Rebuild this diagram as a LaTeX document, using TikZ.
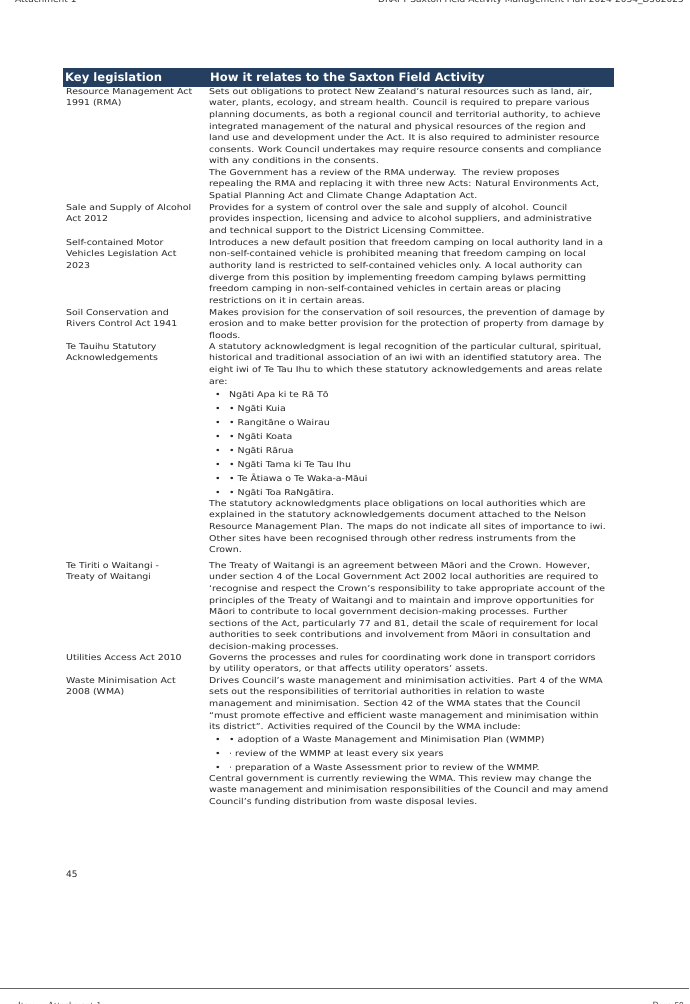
\documentclass[tikz,border=0pt]{standalone}
\usepackage{fontspec}
\setmainfont{DejaVu Sans}
\newfontfamily\widefont[FakeStretch=1.16]{DejaVu Sans}
\definecolor{hdr}{HTML}{243F60}
\tikzset{
  cell/.style={anchor=north west,inner sep=0pt,align=left,font=\widefont\fontsize{8.1}{11.55}\selectfont,text=black!85},
  hd/.style={anchor=west,inner sep=0pt,font=\fontsize{11.6}{12}\selectfont\bfseries,text=white},
  foot/.style={inner sep=0pt,font=\fontsize{9}{10}\selectfont,text=black!80}
}
\newcommand{\bl}[1]{\makebox[14pt][l]{\textbullet}#1}
\begin{document}
\begin{tikzpicture}[x=1pt,y=1pt]
\useasboundingbox (0,0) rectangle (689,-1004);
\fill[white] (0,0) rectangle (689,-1004);
% cropped running header
\node[foot,anchor=base west] (th1) at (15,-2) {Attachment 1};
\node[foot,anchor=base east] (th2) at (684,-2) {DRAFT Saxton Field Activity Management Plan 2024-2034\_D562025};
% header bar
\fill[hdr] (63,-68) rectangle (614,-87);
\node[hd] (h1) at (65,-78) {Key legislation};
\node[hd] (h2) at (210,-78) {How it relates to the Saxton Field Activity};
% rows
\node[cell] (a1) at (66,-88) {Resource Management Act\\1991 (RMA)};
\node[cell] (b1) at (209,-88) {Sets out obligations to protect New Zealand’s natural resources such as land, air,\\
water, plants, ecology, and stream health. Council is required to prepare various\\
planning documents, as both a regional council and territorial authority, to achieve\\
integrated management of the natural and physical resources of the region and\\
land use and development under the Act. It is also required to administer resource\\
consents. Work Council undertakes may require resource consents and compliance\\
with any conditions in the consents.\\
The Government has a review of the RMA underway.\ \ The review proposes\\
repealing the RMA and replacing it with three new Acts: Natural Environments Act,\\
Spatial Planning Act and Climate Change Adaptation Act.};
\node[cell] (a2) at (66,-204) {Sale and Supply of Alcohol\\Act 2012};
\node[cell] (b2) at (209,-204) {Provides for a system of control over the sale and supply of alcohol. Council\\
provides inspection, licensing and advice to alcohol suppliers, and administrative\\
and technical support to the District Licensing Committee.};
\node[cell] (a3) at (66,-239) {Self-contained Motor\\Vehicles Legislation Act\\2023};
\node[cell] (b3) at (209,-239) {Introduces a new default position that freedom camping on local authority land in a\\
non-self-contained vehicle is prohibited meaning that freedom camping on local\\
authority land is restricted to self-contained vehicles only. A local authority can\\
diverge from this position by implementing freedom camping bylaws permitting\\
freedom camping in non-self-contained vehicles in certain areas or placing\\
restrictions on it in certain areas.};
\node[cell] (a4) at (66,-309) {Soil Conservation and\\Rivers Control Act 1941};
\node[cell] (b4) at (209,-309) {Makes provision for the conservation of soil resources, the prevention of damage by\\
erosion and to make better provision for the protection of property from damage by\\
floods.};
\node[cell] (a5) at (66,-343) {Te Tauihu Statutory\\Acknowledgements};
\node[cell] (b5) at (209,-343) {A statutory acknowledgment is legal recognition of the particular cultural, spiritual,\\
historical and traditional association of an iwi with an identified statutory area. The\\
eight iwi of Te Tau Ihu to which these statutory acknowledgements and areas relate\\
are:};
\node[cell] (c5) at (215,-391) {\bl{Ngāti Apa ki te Rā Tō}\\[2.4pt]
\bl{• Ngāti Kuia}\\[2.4pt]
\bl{• Rangitāne o Wairau}\\[2.4pt]
\bl{• Ngāti Koata}\\[2.4pt]
\bl{• Ngāti Rārua}\\[2.4pt]
\bl{• Ngāti Tama ki Te Tau Ihu}\\[2.4pt]
\bl{• Te Ātiawa o Te Waka-a-Māui}\\[2.4pt]
\bl{• Ngāti Toa RaNgātira.}};
\node[cell] (d5) at (209,-500) {The statutory acknowledgments place obligations on local authorities which are\\
explained in the statutory acknowledgements document attached to the Nelson\\
Resource Management Plan. The maps do not indicate all sites of importance to iwi.\\
Other sites have been recognised through other redress instruments from the\\
Crown.};
\node[cell] (a6) at (66,-562) {Te Tiriti o Waitangi -\\Treaty of Waitangi};
\node[cell] (b6) at (209,-562) {The Treaty of Waitangi is an agreement between Māori and the Crown. However,\\
under section 4 of the Local Government Act 2002 local authorities are required to\\
‘recognise and respect the Crown’s responsibility to take appropriate account of the\\
principles of the Treaty of Waitangi and to maintain and improve opportunities for\\
Māori to contribute to local government decision-making processes. Further\\
sections of the Act, particularly 77 and 81, detail the scale of requirement for local\\
authorities to seek contributions and involvement from Māori in consultation and\\
decision-making processes.};
\node[cell] (a7) at (66,-654) {Utilities Access Act 2010};
\node[cell] (b7) at (209,-654) {Governs the processes and rules for coordinating work done in transport corridors\\
by utility operators, or that affects utility operators’ assets.};
\node[cell] (a8) at (66,-677) {Waste Minimisation Act\\2008 (WMA)};
\node[cell] (b8) at (209,-677) {Drives Council’s waste management and minimisation activities. Part 4 of the WMA\\
sets out the responsibilities of territorial authorities in relation to waste\\
management and minimisation. Section 42 of the WMA states that the Council\\
“must promote effective and efficient waste management and minimisation within\\
its district”. Activities required of the Council by the WMA include:};
\node[cell] (c8) at (215,-736) {\bl{• adoption of a Waste Management and Minimisation Plan (WMMP)}\\[2.4pt]
\bl{· review of the WMMP at least every six years}\\[2.4pt]
\bl{· preparation of a Waste Assessment prior to review of the WMMP.}};
\node[cell] (d8) at (209,-775) {Central government is currently reviewing the WMA. This review may change the\\
waste management and minimisation responsibilities of the Council and may amend\\
Council’s funding distribution from waste disposal levies.};
% page number and footer
\node[cell,font=\fontsize{9}{10}\selectfont] (pn) at (66,-871) {45};
\draw[black!60,line width=0.8pt] (0,-988) -- (689,-988);
\node[foot,anchor=base west,font=\fontsize{9}{10}\selectfont\sffamily] (f1) at (18,-1008) {Item\ \ - Attachment 1};
\node[foot,anchor=base east,font=\fontsize{9}{10}\selectfont\sffamily] (f2) at (684,-1008) {Page 50};
\end{tikzpicture}
\end{document}
